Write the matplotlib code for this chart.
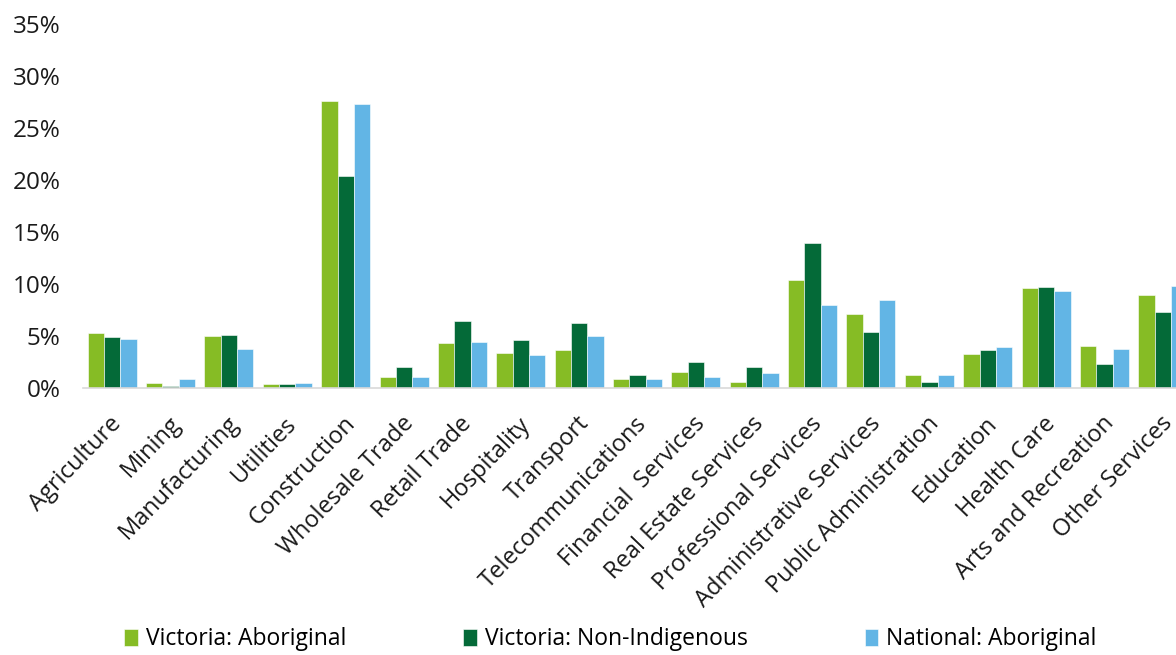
import numpy as np
import matplotlib
matplotlib.use("Agg")
import matplotlib.pyplot as plt
import matplotlib.transforms as mtransforms

plt.rcParams["font.family"] = ["Open Sans", "DejaVu Sans"]

industries = ["Agriculture", "Mining", "Manufacturing", "Utilities", "Construction",
              "Wholesale Trade", "Retail Trade", "Hospitality", "Transport",
              "Telecommunications", "Financial  Services", "Real Estate Services",
              "Professional Services", "Administrative Services",
              "Public Administration", "Education", "Health Care",
              "Arts and Recreation", "Other Services"]

vic_aboriginal = [5.3, 0.5, 5.0, 0.4, 27.6, 1.1, 4.3, 3.4, 3.7, 0.9, 1.5, 0.6,
                  10.4, 7.1, 1.25, 3.3, 9.6, 4.0, 8.9]
vic_non_indigenous = [4.9, 0.15, 5.1, 0.4, 20.4, 2.05, 6.4, 4.6, 6.3, 1.3, 2.55, 2.0,
                      13.9, 5.4, 0.55, 3.7, 9.75, 2.3, 7.35]
nat_aboriginal = [4.7, 0.85, 3.8, 0.5, 27.3, 1.05, 4.45, 3.15, 5.0, 0.9, 1.05, 1.4,
                  7.95, 8.5, 1.3, 3.95, 9.35, 3.8, 9.85]

series_names = ["Victoria: Aboriginal", "Victoria: Non-Indigenous", "National: Aboriginal"]
colors = ["#86BC25", "#046A38", "#62B5E5"]

fig = plt.figure(figsize=(11.76, 6.55), dpi=100)
ax = fig.add_axes([0.0706, 0.4076, 0.943, 0.5557])

x = np.arange(len(industries))
w = 0.28
for i, (vals, name, c) in enumerate(zip([vic_aboriginal, vic_non_indigenous, nat_aboriginal],
                                        series_names, colors)):
    ax.bar(x + (i - 1) * w, vals, width=w, color=c, label=name,
           edgecolor="white", linewidth=0.4)

ax.set_xlim(-0.5, len(industries) - 0.5)
ax.set_ylim(0, 35)
ax.set_yticks(np.arange(0, 36, 5))
ax.set_yticklabels([f"{v}%" for v in range(0, 36, 5)], fontsize=17.5, color="#1a1a1a")
ax.set_xticks(x)
ax.set_xticklabels(industries, rotation=46, ha="right", va="center",
                   rotation_mode="anchor", fontsize=17, color="#1a1a1a")
ax.tick_params(axis="both", length=0)
ax.tick_params(axis="y", pad=16)
ax.tick_params(axis="x", pad=23)

# nudge x labels a little to the right
offset = mtransforms.ScaledTranslation(6 / 100, 0, fig.dpi_scale_trans)
for lab in ax.get_xticklabels():
    lab.set_transform(lab.get_transform() + offset)

for s in ["top", "right", "left"]:
    ax.spines[s].set_visible(False)
ax.spines["bottom"].set_color("#d9d9d9")
ax.spines["bottom"].set_linewidth(1.2)

fig.legend(loc="center", bbox_to_anchor=(0.519, 0.024), ncol=3, frameon=False,
           fontsize=16.5, handlelength=0.6, handleheight=0.75, handletextpad=0.35,
           columnspacing=5.1)

fig.savefig("out.png", dpi=100)
